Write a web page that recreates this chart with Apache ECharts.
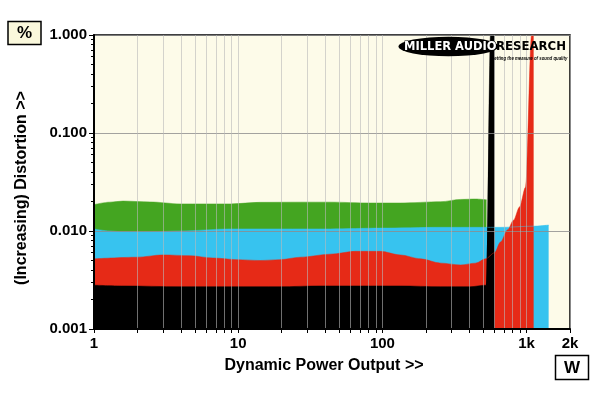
<!DOCTYPE html>
<html><head><meta charset="utf-8">
<script src="https://cdn.jsdelivr.net/npm/echarts@6/dist/echarts.min.js"></script>
<style>html,body{margin:0;padding:0;background:#fff}#c{width:600px;height:393px}</style>
</head><body><div id="c"></div>
<script>
// Tick / label values
const xLabelValues = [1, 10, 100, 1000, 2000];
const xLabelTexts = ['1', '10', '100', '1k', '2k'];
const xTickValues = [1,2,3,4,5,6,7,8,9,10,20,30,40,50,60,70,80,90,100,200,300,400,500,600,700,800,900,1000,2000];
const yLabelValues = [0.001, 0.01, 0.1, 1];
const yMinorTickValues = [0.002,0.003,0.004,0.005,0.006,0.007,0.008,0.009,0.02,0.03,0.04,0.05,0.06,0.07,0.08,0.09,0.2,0.3,0.4,0.5,0.6,0.7,0.8,0.9];

// Series data: [power W, distortion %]
const greenData = [[1,0.0186],[1.29,0.0197],[1.59,0.0202],[2.45,0.0198],[3.96,0.0189],[8.8,0.0189],[14.2,0.0196],[27,0.0197],[43.5,0.0197],[82.5,0.0193],[133,0.0193],[254,0.0199],[349,0.0210],[444,0.0212],[527,0.0208]];
const blueData = [[1,0.0105],[1.29,0.0100],[1.59,0.0098],[2.45,0.0098],[3.96,0.0100],[8.8,0.0105],[19.5,0.0105],[43.5,0.0105],[97,0.0107],[254,0.0109],[478,0.0109],[659,0.0109],[1119,0.0112],[1422,0.0115]];
const redData = [[1,0.0052],[1.99,0.0054],[3.0,0.0057],[4.6,0.0056],[6.7,0.0053],[9.8,0.0051],[14.2,0.0050],[19.5,0.0051],[27,0.0054],[43.5,0.0058],[65,0.0062],[97,0.0062],[133,0.0057],[184,0.0052],[254,0.0047],[349,0.0045],[444,0.0047],[519,0.0052],[600,0.0060],[659,0.0077],[740,0.0103],[812,0.0129],[894,0.0176],[984,0.028],[1083,1.0],[1119,1.0]];
const blackData = [[1,0.0028],[1.59,0.00275],[3.96,0.0027],[19.5,0.0027],[37,0.00275],[133,0.00275],[254,0.0027],[407,0.0027],[519,0.0028],[527,0.0028],[562,1.0],[600,1.0]];

const FONT = '"Liberation Sans", Arial, sans-serif';
const LOGO_FONT = '"DejaVu Sans", sans-serif';

function areaSeries(name, data, color) {
  return {
    type: 'line', name: name, data: data, symbol: 'none',
    smooth: 0.3, smoothMonotone: 'x',
    lineStyle: {width: 0.5, color: color},
    areaStyle: {color: color, opacity: 1, origin: 'start'},
    itemStyle: {color: color}, silent: true, z: 2
  };
}

const chart = echarts.init(document.getElementById('c'), null, {renderer: 'canvas'});
chart.setOption({
  animation: false,
  grid: {left: 94, right: 30, top: 35, bottom: 64, show: true, backgroundColor: '#FDFBE9', borderColor: '#000', borderWidth: 1.5},
  xAxis: {
    type: 'log', logBase: 10, min: 1, max: 2000, z: 5,
    name: 'Dynamic Power Output >>', nameLocation: 'middle', nameGap: 29,
    nameTextStyle: {fontFamily: FONT, fontWeight: 'bold', fontSize: 16, color: '#000', padding: [0, 16, 0, 0]},
    axisLine: {lineStyle: {color: '#000', width: 2}},
    axisTick: {show: true, length: 4, customValues: xTickValues, lineStyle: {color: '#000', width: 1}},
    axisLabel: {customValues: xLabelValues, margin: 7, fontFamily: FONT, fontWeight: 'bold', fontSize: 15, color: '#000',
      formatter: function (v) { for (let i = 0; i < xLabelValues.length; i++) { if (Math.abs(v - xLabelValues[i]) < 1e-6 * xLabelValues[i]) return xLabelTexts[i]; } return ''; }},
    splitLine: {show: true, lineStyle: {color: 'rgba(185,185,185,0.6)', width: 1}}
  },
  yAxis: [{
    type: 'log', logBase: 10, min: 0.001, max: 1, position: 'left', z: 5,
    name: '(Increasing) Distortion >>', nameLocation: 'middle', nameGap: 64,
    nameTextStyle: {fontFamily: FONT, fontWeight: 'bold', fontSize: 16, color: '#000', padding: [0, 12, 0, 0]},
    axisLine: {lineStyle: {color: '#000', width: 2}},
    axisTick: {show: true, length: 5, customValues: yLabelValues, lineStyle: {color: '#000'}},
    axisLabel: {customValues: yLabelValues, margin: 7, fontFamily: FONT, fontWeight: 'bold', fontSize: 15, color: '#000',
      formatter: function (v) { return Number(v).toFixed(3); }},
    splitLine: {show: true, lineStyle: {color: 'rgba(140,140,140,0.8)', width: 1}}
  }, {
    type: 'log', logBase: 10, min: 0.001, max: 1, position: 'left', offset: 0, z: 5,
    axisLine: {show: false},
    axisTick: {show: true, length: 3, customValues: yMinorTickValues, lineStyle: {color: '#000'}},
    axisLabel: {show: false},
    splitLine: {show: false}
  }],
  series: [
    areaSeries('green', greenData, '#44A521'),
    areaSeries('blue', blueData, '#37C3EF'),
    areaSeries('red', redData, '#E62A17'),
    areaSeries('black', blackData, '#000000')
  ],
  graphic: [
    {type: 'rect', shape: {x: 8, y: 21.5, width: 33, height: 23}, style: {fill: '#FAF8DC', stroke: '#000', lineWidth: 1.5}},
    {type: 'text', x: 24.5, y: 33.5, style: {text: '%', fontFamily: FONT, fontWeight: 'bold', fontSize: 17, fill: '#000', align: 'center', verticalAlign: 'middle'}},
    {type: 'rect', shape: {x: 555.5, y: 355.5, width: 33, height: 24}, style: {fill: '#fff', stroke: '#000', lineWidth: 1.5}},
    {type: 'text', x: 572, y: 368, style: {text: 'W', fontFamily: FONT, fontWeight: 'bold', fontSize: 17, fill: '#000', align: 'center', verticalAlign: 'middle'}},
    {type: 'circle', x: 448.5, y: 46.5, scaleX: 5.1, scaleY: 1, shape: {cx: 0, cy: 0, r: 9.8}, style: {fill: '#000'}, z: 10},
    {type: 'text', x: 404, y: 47, scaleX: 1.0, z: 11, style: {text: 'MILLER AUDIO', fontFamily: LOGO_FONT, fontWeight: 'bold', fontSize: 11.5, fill: '#fff', stroke: '#000', lineWidth: 1, align: 'left', verticalAlign: 'middle'}},
    {type: 'text', x: 496, y: 47, scaleX: 1.02, z: 11, style: {text: 'RESEARCH', fontFamily: LOGO_FONT, fontWeight: 'bold', fontSize: 11.5, fill: '#000', align: 'left', verticalAlign: 'middle'}},
    {type: 'text', x: 491, y: 58, scaleX: 0.72, z: 11, style: {text: 'Getting the measure of sound quality', fontFamily: FONT, fontWeight: 'bold', fontStyle: 'italic', fontSize: 6, fill: '#000', align: 'left', verticalAlign: 'middle'}}
  ]
});
</script>
</body></html>
